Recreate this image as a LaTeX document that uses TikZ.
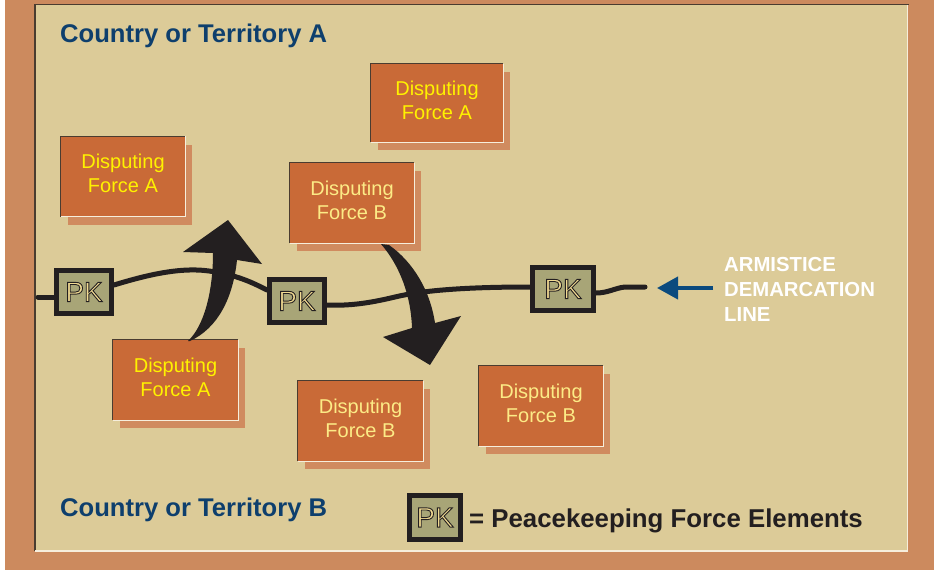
\documentclass[tikz,border=0pt]{standalone}
\usepackage{fontspec}
\setmainfont{Liberation Sans}
\usetikzlibrary{calc,arrows.meta,shadows}

\definecolor{frameorange}{HTML}{CC8A5E}
\definecolor{panel}{HTML}{DCCB98}
\definecolor{boxfill}{HTML}{C96A37}
\definecolor{boxshadow}{HTML}{D08B5F}
\definecolor{ink}{HTML}{231F20}
\definecolor{edgedark}{HTML}{4A3C30}
\definecolor{edgelight}{HTML}{F6EEDC}
\definecolor{titleblue}{HTML}{0E3F6D}
\definecolor{pkolive}{HTML}{A8A577}
\definecolor{pkletter}{HTML}{F2DB92}
\definecolor{forceA}{HTML}{FFF200}
\definecolor{forceB}{HTML}{FCEB86}
\definecolor{arrowblue}{HTML}{0B4A7E}

% "PK" in pale letters, stroked with a thin dark outline (text render mode 2)
\newcommand\pkglyphs{%
  \textcolor{pkletter}{%
    \special{pdf:literal direct 0.137 0.122 0.125 RG 0.9 w 2 Tr}PK%
    \special{pdf:literal direct 0 Tr}}}

\pgfdeclarelayer{base}
\pgfdeclarelayer{background}
\pgfsetlayers{base,background,main}

\tikzset{
  force/.style={fill=boxfill, inner sep=0pt, align=center,
    minimum width=124pt, minimum height=80pt, text depth=6pt,
    font=\fontsize{20}{24}\selectfont,
    general shadow={fill=boxshadow, shadow xshift=7pt, shadow yshift=-8pt}},
  forcea/.style={force, text=forceA},
  forceb/.style={force, text=forceB},
  pkbox/.style={draw=ink, line width=5pt, fill=pkolive, inner sep=0pt,
    minimum width=55pt, minimum height=43pt,
    font=\fontsize{28}{30}\selectfont},
  demline/.style={draw=ink, line width=5pt, line cap=round},
  bigarrow/.style={fill=ink},
  territory/.style={inner sep=0pt, anchor=base west, text=titleblue,
    font=\fontsize{25.6}{30}\selectfont\bfseries},
}

\begin{document}
\begin{tikzpicture}[x=1pt, y=-1pt]
  \useasboundingbox (0,0) rectangle (934,570);
  % frame and panel
  \begin{pgfonlayer}{base}
    \fill[white] (0,0) rectangle (934,570);
    \fill[frameorange] (5,0) rectangle (934,570);
    \fill[panel] (35,5) rectangle (908,551);
    \draw[edgedark, line width=1.2pt] (35,551) -- (35,4.5) -- (909,4.5);
    \draw[edgelight, line width=1.2pt] (907.6,5) -- (907.6,551) -- (35,551);
  \end{pgfonlayer}

  % territory labels
  \node[territory] (terrA) at (60,42) {Country or Territory A};
  \node[territory] (terrB) at (60,516) {Country or Territory B};

  % disputing forces
  \node[forcea] (fa1) at (123,176.5) {Disputing\\Force A};
  \node[forcea, minimum width=132pt, minimum height=78pt] (fa2) at (437,103) {Disputing\\Force A};
  \node[forceb] (fb1) at (352,203) {Disputing\\Force B};
  \node[forcea, minimum width=125pt] (fa3) at (175.5,380) {Disputing\\Force A};
  \node[forceb, minimum width=125pt] (fb2) at (360.5,421) {Disputing\\Force B};
  \node[forceb] (fb3) at (541,406) {Disputing\\Force B};
  \foreach \b in {fa1,fa2,fb1,fa3,fb2,fb3}{
    \draw[edgedark, line width=1pt] (\b.south west) -- (\b.north west) -- (\b.north east);
    \draw[edgelight, line width=1pt] (\b.north east) -- (\b.south east) -- (\b.south west);
  }

  % peacekeeping elements along the line
  \coordinate (lineW) at (38,297);
  \coordinate (lineE) at (645,287);
  \node[pkbox] (pk1) at (84,292) {\pkglyphs};
  \node[pkbox] (pk2) at (297,301) {\pkglyphs};
  \node[pkbox, minimum width=61pt] (pk3) at (563,289) {\pkglyphs};

  % armistice demarcation line, passing under the PK boxes
  \begin{pgfonlayer}{background}
    \draw[demline] (lineW) -- ($(pk1.west)+(0,5)$);
    \draw[demline] ($(pk1.east)+(0,-7)$) .. controls (150,274) and (185,266) .. (215,272)
                   .. controls (240,276) and (255,284) .. ($(pk2.west)+(0,-11)$);
    \draw[demline] ($(pk2.east)+(0,4)$) .. controls (350,306) and (370,303) .. (395,297)
                   .. controls (420,291) and (460,287) .. ($(pk3.west)+(0,-2)$);
    \draw[demline] ($(pk3.east)+(0,4)$) .. controls (608,293) and (615,288) .. (625,287) -- (lineE);
  \end{pgfonlayer}

  % movement arrows across the line
  \fill[bigarrow] (188,341) .. controls (204,326) and (213,292) .. (213,253)
     -- (183,252) -- (228,220) -- (262,264) -- (237,260)
     .. controls (233,298) and (218,328) .. (190,341) -- cycle;
  \fill[bigarrow] (381,244) -- (389,245) .. controls (413,262) and (430,290) .. (435,323)
     -- (461,316) -- (430,365) -- (383,337) -- (412,328)
     .. controls (411,296) and (400,266) .. (381,244) -- cycle;

  % label of the line
  \node[inner sep=0pt, anchor=north west, align=left, text=white,
        font=\fontsize{20.3}{25}\selectfont\bfseries] (armlabel) at (724,257)
        {ARMISTICE\\DEMARCATION\\LINE};
  \coordinate (armtail) at (713,288);
  \coordinate (armtip) at (657,288);
  \draw[arrowblue, line width=4pt, -{Triangle[length=21pt,width=22pt]}] (armtail) -- (armtip);

  % legend
  \node[pkbox, minimum width=51pt, minimum height=44pt] (pklegend) at (435,517.5) {\pkglyphs};
  \node[inner sep=0pt, anchor=base west, text=ink,
        font=\fontsize{25.8}{30}\selectfont\bfseries] (legendtext) at (469,527)
        {= Peacekeeping Force Elements};
\end{tikzpicture}
\end{document}
